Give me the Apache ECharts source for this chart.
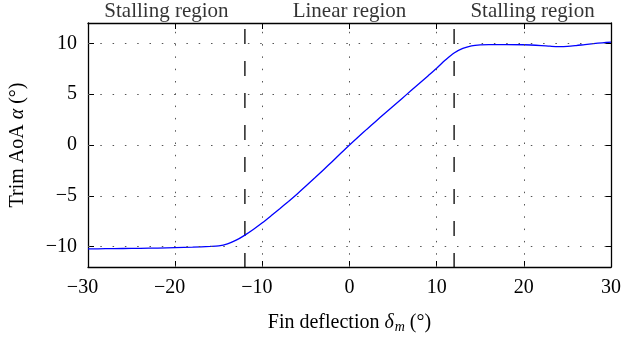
<!DOCTYPE html>
<html>
<head>
<meta charset="utf-8">
<script src="https://cdn.jsdelivr.net/npm/echarts@6/dist/echarts.min.js"></script>
<style>html,body{margin:0;padding:0;background:#fff;}#c{width:624px;height:339px;}</style>
</head>
<body>
<div id="c"></div>
<script>
// Data
const deflection = [-30,-28,-26,-24,-22,-20,-18,-16,-15,-14,-13,-12,-11,-10,-9,-8,-7,-6,-5,-4,-3,-2,-1,0,1,2,3,4,5,6,7,8,9,10,11,12,13,14,15,16,18,20,22,23,24,25,26,27,28,29,30];
const trimAoA = [-10.22,-10.2,-10.18,-10.16,-10.14,-10.1,-10.05,-9.98,-9.92,-9.72,-9.36,-8.86,-8.28,-7.65,-6.97,-6.27,-5.55,-4.81,-4.04,-3.25,-2.45,-1.64,-0.82,0,0.79,1.56,2.32,3.07,3.82,4.56,5.3,6.04,6.79,7.55,8.35,9.05,9.5,9.75,9.85,9.88,9.88,9.86,9.78,9.72,9.68,9.7,9.78,9.88,9.97,10.05,10.12];
const xTicks = [-30,-20,-10,0,10,20,30];
const yTicks = [-10,-5,0,5,10];
const stallBoundaries = [-12, 12];
const regionLabels = ['Stalling region','Linear region','Stalling region'];
const regionCenters = [-21, 0, 21];
const xRange = [-30, 30];
const yRange = [-12, 12];

const FONT = 'Liberation Serif';
const FS = 20;
const curve = deflection.map((d, i) => [d, trimAoA[i]]);

function negFmt(v) {
  const n = Number(v);
  if (n < 0) return '{n|\u2212' + Math.abs(n) + '}';
  return '{p|' + n + '}';
}
const richNeg = {
  n: {fontFamily: FONT, fontSize: FS, color: '#000', padding: [0, 11, 0, 0]},
  p: {fontFamily: FONT, fontSize: FS, color: '#000'}
};
function negFmtY(v) {
  const n = Number(v);
  return n < 0 ? '\u2212' + Math.abs(n) : String(n);
}

const gridLineStyle = {color: '#555', width: 1, type: [1.5, 10.8]};
const boxLine = {show: true, onZero: false, lineStyle: {color: '#000', width: 1.3}};

const chart = echarts.init(document.getElementById('c'), null, {renderer: 'canvas'});
chart.setOption({
  animation: false,
  backgroundColor: '#fff',
  grid: {left: 87, right: 10, top: 23, bottom: 70.5, containLabel: false},
  xAxis: [{
    type: 'value', position: 'bottom', min: xRange[0], max: xRange[1], interval: 10,
    axisLine: boxLine,
    axisTick: {show: true, inside: true, length: 6, lineStyle: {color: '#000', width: 1}},
    splitLine: {show: false},
    axisLabel: {margin: 11, formatter: negFmt, rich: richNeg, fontFamily: FONT, fontSize: FS, color: '#000'},
    name: 'Fin deflection {i|\u03b4}{s|m} (\u00b0)',
    nameLocation: 'middle', nameGap: 44,
    nameTextStyle: {fontFamily: FONT, fontSize: FS, color: '#000',
      rich: {
        i: {fontFamily: FONT, fontSize: FS, fontStyle: 'italic', color: '#000'},
        s: {fontFamily: FONT, fontSize: 14, fontStyle: 'italic', color: '#000', padding: [9, 0, 0, 1]}
      }}
  }, {
    type: 'value', position: 'top', min: xRange[0], max: xRange[1], interval: 10,
    axisLine: boxLine,
    axisTick: {show: true, inside: true, length: 6, lineStyle: {color: '#000', width: 1}},
    splitLine: {show: false}, axisLabel: {show: false}
  }],
  yAxis: [{
    type: 'value', position: 'left', min: yRange[0], max: yRange[1],
    axisLine: boxLine,
    axisTick: {show: true, inside: true, length: 6, customValues: yTicks, lineStyle: {color: '#000', width: 1}},
    splitLine: {show: false},
    axisLabel: {margin: 11, customValues: yTicks, formatter: negFmtY, fontFamily: FONT, fontSize: FS, color: '#000'},
    name: 'Trim AoA {i|\u03b1} (\u00b0)',
    nameLocation: 'middle', nameGap: 60, nameRotate: 90,
    nameTextStyle: {fontFamily: FONT, fontSize: FS, color: '#000',
      rich: {i: {fontFamily: FONT, fontSize: FS, fontStyle: 'italic', color: '#000'}}}
  }, {
    type: 'value', position: 'right', min: yRange[0], max: yRange[1],
    axisLine: boxLine,
    axisTick: {show: true, inside: true, length: 6, customValues: yTicks, lineStyle: {color: '#000', width: 1}},
    splitLine: {show: false}, axisLabel: {show: false}
  }],
  series: [
    {
      type: 'line', data: [], silent: true, z: 1,
      markLine: {
        silent: true, symbol: ['none', 'none'], animation: false,
        label: {show: false},
        lineStyle: gridLineStyle,
        data: xTicks.filter(v => v > xRange[0] && v < xRange[1]).map(v => ({xAxis: v}))
          .concat(yTicks.map(v => ({yAxis: v})))
      }
    },
    ...stallBoundaries.map(b => ({
      type: 'line', z: 2, silent: true, symbol: 'none',
      data: [[b, yRange[1]], [b, yRange[0]]],
      lineStyle: {color: '#000', width: 1.3, type: [15, 17], dashOffset: 26}
    })),
    {
      type: 'line', z: 3, symbol: 'none', smooth: 0.3,
      data: curve,
      lineStyle: {color: '#0000ff', width: 1.3}
    },
    {
      type: 'scatter', z: 4, symbolSize: 0, silent: true, clip: false,
      data: regionCenters.map((c, i) => ({value: [c, yRange[1]], name: regionLabels[i]})),
      label: {show: true, position: 'top', distance: 1, formatter: p => p.name,
        fontFamily: FONT, fontSize: 21, color: '#000'}
    }
  ]
});
</script>
</body>
</html>
